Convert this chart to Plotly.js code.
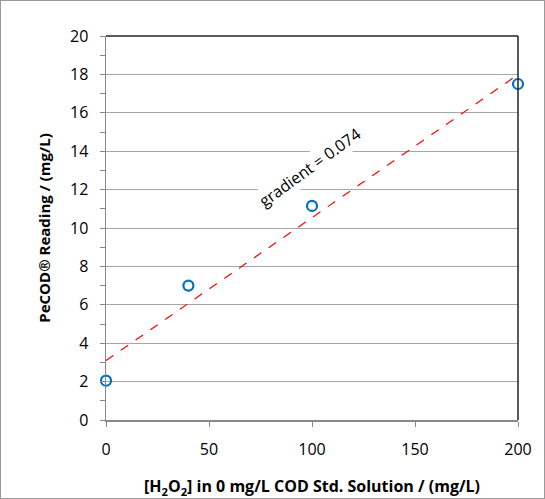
<!DOCTYPE html>
<html><head><meta charset="utf-8">
<script src="https://cdn.plot.ly/plotly-3.0.1.min.js"></script>
<style>body{margin:0;padding:0;background:#fff}#c{width:545px;height:499px}#b{position:absolute;left:0;top:0;width:545px;height:499px;box-sizing:border-box;border:1px solid #9a9a9a;pointer-events:none}</style>
</head><body><div id="c"></div><div id="b"></div>
<script>
const h2o2 = [0, 40, 100, 200];
const pecod = [2.05, 7.0, 11.15, 17.5];
const yTicks = [0,2,4,6,8,10,12,14,16,18,20];
const xTicks = [0,50,100,150,200];
const annotText = 'gradient = 0.074';

// least squares trendline from the data
const n = h2o2.length;
const mx = h2o2.reduce((a,b)=>a+b,0)/n, my = pecod.reduce((a,b)=>a+b,0)/n;
let sxy=0, sxx=0;
for (let i=0;i<n;i++){sxy+=(h2o2[i]-mx)*(pecod[i]-my); sxx+=(h2o2[i]-mx)**2;}
const slope = sxy/sxx, icpt = my - slope*mx;
const trendX = [0, 200];
const trendY = trendX.map(x=>icpt+slope*x);

const font = '"Open Sans", "Liberation Sans", sans-serif';
const data = [
 {x: trendX, y: trendY, mode:'lines', line:{color:'#FF0000', width:1.2, dash:'dash'}, hoverinfo:'skip'},
 {x: h2o2, y: pecod, mode:'markers', cliponaxis:false, marker:{symbol:'circle-open', size:10, color:'#0070C0', line:{width:2.2, color:'#0070C0'}}}
];
const layout = {
 width:545, height:499, showlegend:false,
 margin:{l:106, r:27, t:36, b:79},
 paper_bgcolor:'#fff', plot_bgcolor:'#fff',
 font:{family:font, color:'#000'},
 xaxis:{range:[0,200], tickvals:xTicks, ticks:'outside', ticklen:5, tickcolor:'#888',
   showgrid:false, zeroline:false, showline:true, linecolor:'#888', linewidth:1.5,
   tickfont:{size:16}, ticklabelstandoff:9,
   title:{text:'<b>[H<sub>2</sub>O<sub>2</sub>] in 0 mg/L COD Std. Solution / (mg/L)</b>', font:{size:16}, standoff:22}},
 yaxis:{range:[0,20], tickvals:yTicks, ticks:'outside', ticklen:5, tickcolor:'#888',
   minor:{dtick:1, ticks:'outside', ticklen:5, tickcolor:'#888', showgrid:false},
   showgrid:true, gridcolor:'#a6a6a6', gridwidth:1, zeroline:false, showline:true, linecolor:'#888', linewidth:1.5,
   tickfont:{size:16}, ticklabelstandoff:8,
   title:{text:'<b>PeCOD® Reading / (mg/L)</b>', font:{size:15}, standoff:16}},
 shapes:[
  {type:'line', xref:'paper', yref:'paper', x0:0, x1:1, y0:1, y1:1, line:{color:'#222', width:1.5}},
  {type:'line', xref:'paper', yref:'paper', x0:1, x1:1, y0:0, y1:1, line:{color:'#222', width:1.5}}
 ],
 annotations:[{x:99, y:13.2, xref:'x', yref:'y', text:annotText, showarrow:false, textangle:-36,
   font:{size:16, family:font}, bgcolor:'#fff'}]
};
Plotly.newPlot('c', data, layout, {staticPlot:true});
</script></body></html>
